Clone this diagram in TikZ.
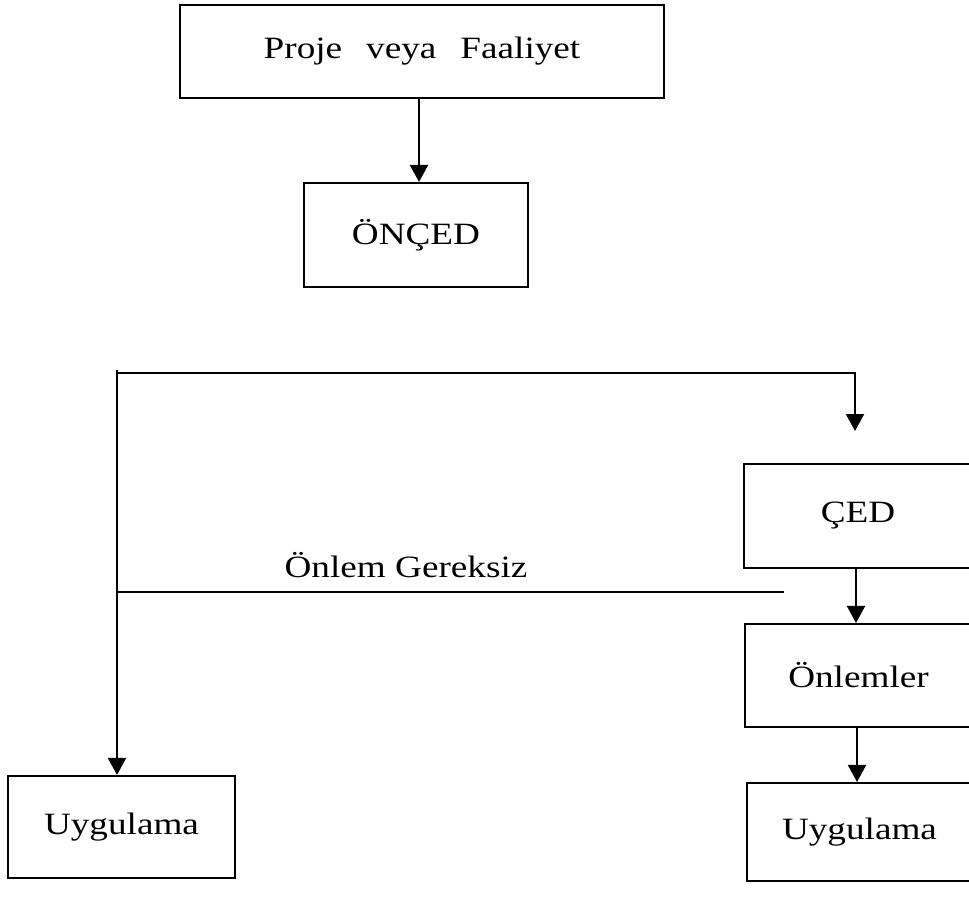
\documentclass[tikz,border=0pt]{standalone}
\usepackage{fontspec}
\setmainfont{Liberation Serif}[FakeStretch=1.2]
\usetikzlibrary{arrows.meta}
\begin{document}
\begin{tikzpicture}[x=1pt,y=-1pt,
  box/.style={draw,line width=2.1pt,inner sep=0pt,font=\fontsize{31}{37}\selectfont},
  conn/.style={line width=2.1pt},
  arr/.style={conn,-{Triangle[length=17pt,width=18pt]}},
  lbl/.style={inner sep=0pt,font=\fontsize{31}{37}\selectfont}]
\useasboundingbox (0,0) rectangle (969,898);
\node[box,minimum width=484pt,minimum height=93pt] (proj) at (422,51.5) {Proje\hspace{24pt}veya\hspace{24pt}Faaliyet};
\node[box,minimum width=224pt,minimum height=104pt] (onced) at (416,235) {ÖNÇED};
\node[box,minimum width=228pt,minimum height=104pt] (ced) at (858,516) {ÇED};
\node[box,minimum width=227pt,minimum height=103pt] (onlemler) at (858.5,675.5) {Önlemler};
\node[box,minimum width=225pt,minimum height=98pt] (uyg2) at (859.5,832) {Uygulama};
\node[box,minimum width=227pt,minimum height=102pt] (uyg1) at (121.5,827) {Uygulama};
\coordinate (pj) at (419,98);
\draw[arr] (pj) -- (pj |- onced.north);
\coordinate (tl) at (117,370);
\coordinate (tlh) at (117,373);
\coordinate (tr) at (855,373);
\coordinate (cedin) at (855,431);
\draw[arr] (tlh) -- (tr) -- (cedin);
\draw[arr] (tl) -- (tl |- uyg1.north);
\coordinate (gl) at (117,592);
\coordinate (gr) at (784,592);
\draw[conn] (gl) -- (gr);
\node[lbl] (glbl) at (406,565) {Önlem Gereksiz};
\coordinate (c1) at (856,568);
\draw[arr] (c1) -- (c1 |- onlemler.north);
\coordinate (c2) at (857,727);
\draw[arr] (c2) -- (c2 |- uyg2.north);
\end{tikzpicture}
\end{document}
